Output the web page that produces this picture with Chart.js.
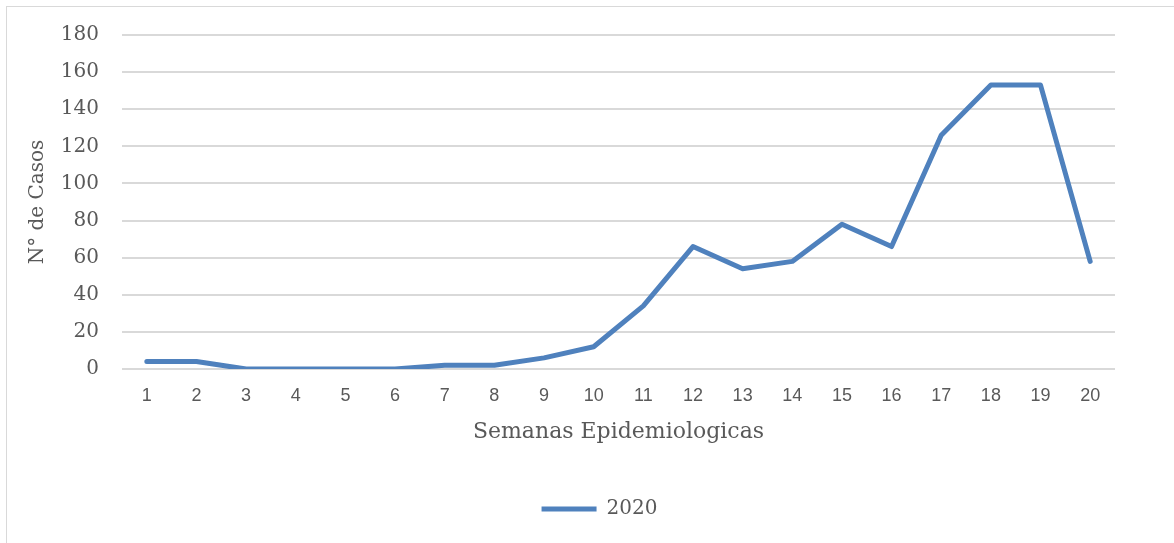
<!DOCTYPE html>
<html>
<head>
<meta charset="utf-8">
<script src="https://cdn.jsdelivr.net/npm/chart.js@4"></script>
<style>
  html, body { margin: 0; padding: 0; background: #fff; overflow: hidden; }
  #frame { position: absolute; left: 6px; top: 6px; width: 1200px; height: 600px; border: 1px solid #d9d9d9; }
  #wrap { position: absolute; left: 0; top: 0; width: 1174px; height: 543px; }
</style>
</head>
<body>
<div id="frame"></div>
<div id="wrap"><canvas id="casosChart"></canvas></div>
<script>
// datos
const semanas = ['1','2','3','4','5','6','7','8','9','10','11','12','13','14','15','16','17','18','19','20'];
const casos2020 = [4, 4, 0, 0, 0, 0, 2, 2, 6, 12, 34, 66, 54, 58, 78, 66, 126, 153, 153, 58];
const serieNombre = '2020';
const ejeX = 'Semanas Epidemiologicas';
const ejeY = 'N° de Casos';

const serif = "'DejaVu Serif', serif";
const gris = '#595959';

// mover la leyenda hacia la derecha, como en el original
const desplazarLeyenda = {
    id: 'desplazarLeyenda',
    afterLayout(chart) {
        chart.legend.left += 42;
        chart.legend.right += 42;
    }
};

const ctx = document.getElementById('casosChart').getContext('2d');
new Chart(ctx, {
    type: 'line',
    data: {
        labels: semanas,
        datasets: [{
            label: serieNombre,
            data: casos2020,
            borderColor: '#4f81bd',
            backgroundColor: '#4f81bd',
            borderWidth: 5,
            borderCapStyle: 'round',
            borderJoinStyle: 'round',
            tension: 0,
            pointRadius: 0,
            pointHoverRadius: 0,
            pointStyle: 'line'
        }]
    },
    options: {
        responsive: true,
        maintainAspectRatio: false,
        animation: false,
        layout: { padding: { top: 34, right: 59, left: 0, bottom: 14 } },
        plugins: {
            tooltip: { enabled: false },
            legend: {
                position: 'bottom',
                labels: {
                    usePointStyle: true,
                    pointStyleWidth: 55,
                    padding: 10,
                    color: gris,
                    font: { family: serif, size: 20 }
                }
            }
        },
        scales: {
            x: {
                offset: true,
                grid: { display: false },
                border: { display: false },
                ticks: {
                    color: gris,
                    padding: 8,
                    maxRotation: 0,
                    font: { family: "'Liberation Sans Narrow', 'Liberation Sans', Arial, sans-serif", size: 18 }
                },
                title: {
                    display: true,
                    text: ejeX,
                    color: gris,
                    padding: { top: 0, bottom: 44 },
                    font: { family: serif, size: 22 }
                },
                afterFit: (scale) => { scale.height = 120; }
            },
            y: {
                min: 0,
                max: 180,
                grid: { color: '#d9d9d9', lineWidth: 2, drawTicks: false },
                border: { display: false },
                ticks: {
                    stepSize: 20,
                    color: gris,
                    padding: 23,
                    font: { family: serif, size: 20 }
                },
                title: {
                    display: true,
                    text: ejeY,
                    color: gris,
                    padding: { top: 26, bottom: 0 },
                    font: { family: serif, size: 20 }
                },
                afterFit: (scale) => { scale.width = 122; }
            }
        }
    },
    plugins: [desplazarLeyenda]
});
</script>
</body>
</html>
